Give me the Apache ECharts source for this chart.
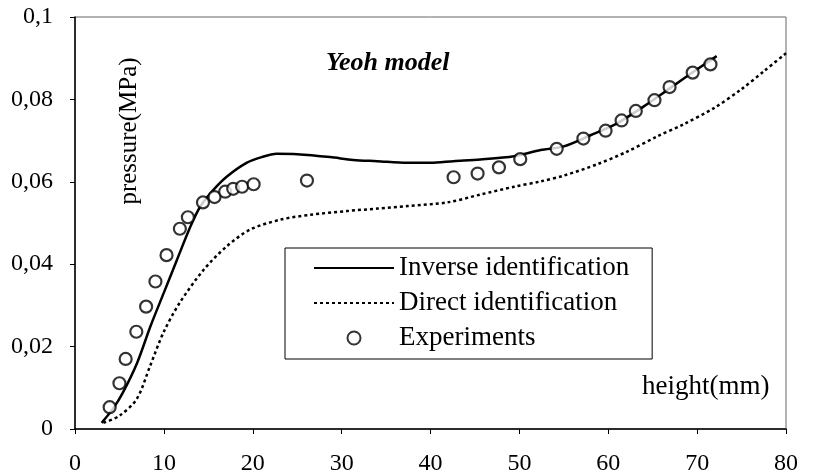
<!DOCTYPE html>
<html>
<head>
<meta charset="utf-8">
<script src="https://cdn.jsdelivr.net/npm/echarts@6/dist/echarts.min.js"></script>
<style>html,body{margin:0;padding:0;background:#fff}#c{width:820px;height:476px}</style>
</head>
<body>
<div id="c"></div>
<script>
var titleText = 'Yeoh model';
var xAxisName = 'height(mm)';
var yAxisName = 'pressure(MPa)';
var seriesNames = ['Inverse identification', 'Direct identification', 'Experiments'];
var yTickLabels = ['0', '0,02', '0,04', '0,06', '0,08', '0,1'];
var xTickLabels = ['0', '10', '20', '30', '40', '50', '60', '70', '80'];

var invX = [3.0, 4.3, 5.4, 7.0, 8.5, 10.0, 11.5, 13.0, 14.1, 15.6, 17.1, 19.3, 21.0, 22.7, 25.0, 28.7, 31.3, 34.0, 37.4, 40.0, 42.6, 45.6, 49.4, 52.4, 55.0, 58.0, 61.0, 64.0, 67.0, 70.0, 72.2];
var invY = [0.0015, 0.0050, 0.0089, 0.0161, 0.0250, 0.0331, 0.0412, 0.0492, 0.0540, 0.0581, 0.0613, 0.0646, 0.0660, 0.0668, 0.0667, 0.0660, 0.0653, 0.0650, 0.0646, 0.0646, 0.0650, 0.0654, 0.0662, 0.0677, 0.0686, 0.0713, 0.0742, 0.0783, 0.0828, 0.0873, 0.0905];

var dirX = [3.2, 5.0, 6.95, 8.45, 9.95, 11.8, 14.5, 17.1, 19.7, 23.1, 26.5, 30.6, 34.0, 37.4, 41.9, 45.6, 49.4, 52.4, 55.0, 58.8, 62.0, 65.5, 68.5, 71.9, 75.0, 77.6, 80.0];
var dirY = [0.0015, 0.0032, 0.0073, 0.0153, 0.0234, 0.0307, 0.0387, 0.0444, 0.0484, 0.0508, 0.0520, 0.0529, 0.0535, 0.0541, 0.0550, 0.0569, 0.0588, 0.0601, 0.0615, 0.0643, 0.0672, 0.0710, 0.0740, 0.0779, 0.0825, 0.0870, 0.0912];

var expX = [3.9, 5.0, 5.7, 6.9, 8.0, 9.05, 10.3, 11.8, 12.7, 14.4, 15.7, 16.9, 17.8, 18.8, 20.1, 26.1, 42.6, 45.3, 47.7, 50.1, 54.2, 57.2, 59.7, 61.5, 63.1, 65.2, 66.9, 69.5, 71.5];
var expY = [0.0053, 0.0111, 0.0170, 0.0236, 0.0297, 0.0358, 0.0422, 0.0486, 0.0514, 0.0550, 0.0563, 0.0576, 0.0583, 0.0588, 0.0594, 0.0603, 0.0611, 0.0620, 0.0635, 0.0655, 0.0680, 0.0705, 0.0724, 0.0749, 0.0772, 0.0798, 0.0830, 0.0865, 0.0885];

function zip(a, b) { return a.map(function (v, i) { return [v, b[i]]; }); }

var FONT = '"Liberation Serif", "Times New Roman", serif';
var chart = echarts.init(document.getElementById('c'), null, { renderer: 'canvas' });
chart.setOption({
  animation: false,
  backgroundColor: '#fff',
  title: {
    text: titleText, left: 321, top: 45,
    textStyle: { fontFamily: FONT, fontSize: 26, fontWeight: 'bold', fontStyle: 'italic', color: '#000' }
  },
  grid: { left: 75, right: 34, top: 17, bottom: 47, show: true, borderColor: '#666', borderWidth: 1 },
  legend: {
    orient: 'vertical', left: 285, top: 248,
    padding: [5, 23, 6, 28], itemGap: 5,
    itemWidth: 80, itemHeight: 13,
    borderColor: '#000', borderWidth: 1, backgroundColor: '#fff',
    textStyle: { fontFamily: FONT, fontSize: 27, color: '#000', lineHeight: 30 },
    data: [
      { name: seriesNames[0], itemStyle: { opacity: 0 } },
      { name: seriesNames[1], itemStyle: { opacity: 0 } },
      { name: seriesNames[2] }
    ]
  },
  xAxis: {
    type: 'value', min: 0, max: 80, interval: 10,
    axisLine: { lineStyle: { color: '#000', width: 1.5 } },
    axisTick: { show: true, length: 5, lineStyle: { color: '#000' } },
    splitLine: { show: false },
    axisLabel: { fontFamily: FONT, fontSize: 24, color: '#000', margin: 23,
      formatter: function (v) { return xTickLabels[Math.round(v / 10)]; } }
  },
  yAxis: {
    type: 'value', min: 0, max: 0.1, interval: 0.02,
    axisLine: { show: true, lineStyle: { color: '#000', width: 1.5 } },
    axisTick: { show: true, length: 5, lineStyle: { color: '#000' } },
    splitLine: { show: false },
    axisLabel: { fontFamily: FONT, fontSize: 24, color: '#000', margin: 22,
      formatter: function (v) { return yTickLabels[Math.round(v / 0.02)]; } }
  },
  graphic: [
    { type: 'text', left: 642, top: 373, style: { text: xAxisName, font: '27px ' + FONT, fill: '#000' } },
    { type: 'text', x: 129, y: 131, rotation: Math.PI / 2,
      style: { text: yAxisName, font: '25px ' + FONT, fill: '#000', align: 'center', verticalAlign: 'middle' } }
  ],
  series: [
    { name: seriesNames[0], type: 'line', data: zip(invX, invY), symbol: 'none', smooth: 0.3,
      lineStyle: { color: '#000', width: 2.5, type: 'solid' }, itemStyle: { color: '#000' }, z: 3 },
    { name: seriesNames[1], type: 'line', data: zip(dirX, dirY), symbol: 'none', smooth: 0.3,
      lineStyle: { color: '#000', width: 2.5, type: [3, 3] }, itemStyle: { color: '#000' }, z: 3 },
    { name: seriesNames[2], type: 'scatter', data: zip(expX, expY), symbol: 'circle', symbolSize: 12,
      itemStyle: { color: '#fff', borderColor: '#000', borderWidth: 2.2 }, z: 4 }
  ]
});
</script>
</body>
</html>
